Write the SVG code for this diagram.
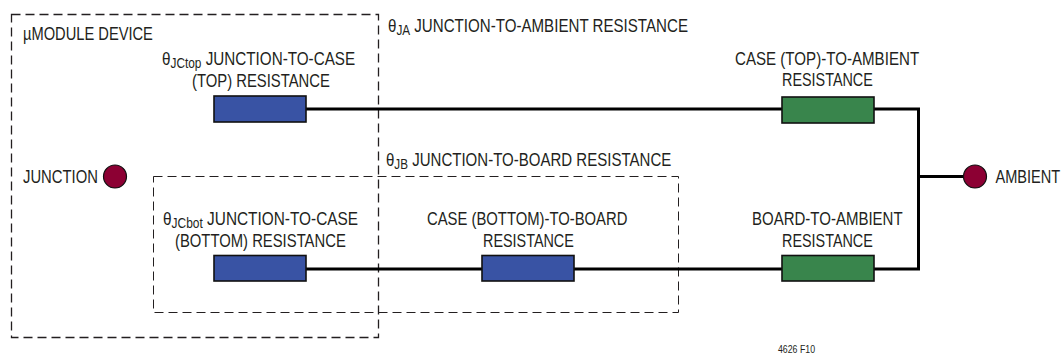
<svg xmlns="http://www.w3.org/2000/svg" width="1062" height="354" viewBox="0 0 1062 354">
<style>
text{font-family:"Liberation Sans",Arial,sans-serif;font-size:18px;fill:#231f20}
.s{font-size:14px}
.c{font-size:10px}
.dash{fill:none;stroke:#231f20;stroke-width:1.3;stroke-dasharray:9 5}
.dash2{fill:none;stroke:#231f20;stroke-width:1;stroke-dasharray:9 5}
.wire{fill:none;stroke:#000;stroke-width:3}
.blue{fill:#3953a4;stroke:#111;stroke-width:1.6}
.green{fill:#39854c;stroke:#111;stroke-width:1.6}
.dot{fill:#8c0033;stroke:#111;stroke-width:1.2}
</style>
<rect width="1062" height="354" fill="#fff"/>
<g id="boundaries">
<rect class="dash" x="11.500" y="14.500" width="367" height="323"/>
<rect class="dash2" x="153.500" y="176.500" width="525" height="136"/>
</g>
<g id="connectors">
<path class="wire" d="M306 109H782M874 109H918.500V269H874M782 269H574M482 269H306M918.500 176.500H964"/>
</g>
<g id="device-label"><text transform="translate(23 40) scale(.816 1)">µMODULE DEVICE</text></g>
<g id="ja-label"><text transform="translate(388 32) scale(.84 1)">θ<tspan class="s" dy="3">JA</tspan><tspan dy="-3"> JUNCTION-TO-AMBIENT RESISTANCE</tspan></text></g>
<g id="jb-label"><text transform="translate(386 166) scale(.835 1)">θ<tspan class="s" dy="3">JB</tspan><tspan dy="-3"> JUNCTION-TO-BOARD RESISTANCE</tspan></text></g>
<g id="jctop">
<text transform="translate(162 65) scale(.847 1)">θ<tspan class="s" dy="3">JCtop</tspan><tspan dy="-3"> JUNCTION-TO-CASE</tspan></text>
<text transform="translate(192 86.500) scale(.824 1)">(TOP) RESISTANCE</text>
<rect class="blue" x="214" y="96" width="92" height="26"/>
</g>
<g id="case-top-ambient">
<text transform="translate(735 65) scale(.84 1)">CASE (TOP)-TO-AMBIENT</text>
<text transform="translate(782 86) scale(.8 1)">RESISTANCE</text>
<rect class="green" x="782" y="97" width="92" height="26"/>
</g>
<g id="junction">
<text transform="translate(23 183) scale(.824 1)">JUNCTION</text>
<circle class="dot" cx="115" cy="176.500" r="11.500"/>
</g>
<g id="ambient">
<circle class="dot" cx="975" cy="176.500" r="11.500"/>
<text transform="translate(995.500 183) scale(.81 1)">AMBIENT</text>
</g>
<g id="jcbot">
<text transform="translate(163 225) scale(.855 1)">θ<tspan class="s" dy="3">JCbot</tspan><tspan dy="-3"> JUNCTION-TO-CASE</tspan></text>
<text transform="translate(175 246.500) scale(.824 1)">(BOTTOM) RESISTANCE</text>
<rect class="blue" x="214" y="255.500" width="92" height="25.500"/>
</g>
<g id="case-bottom-board">
<text transform="translate(427 225) scale(.824 1)">CASE (BOTTOM)-TO-BOARD</text>
<text transform="translate(483 246.500) scale(.8 1)">RESISTANCE</text>
<rect class="blue" x="482" y="255.500" width="92" height="25.500"/>
</g>
<g id="board-ambient">
<text transform="translate(752 225) scale(.834 1)">BOARD-TO-AMBIENT</text>
<text transform="translate(782 246.500) scale(.8 1)">RESISTANCE</text>
<rect class="green" x="782" y="255.500" width="92" height="25.500"/>
</g>
<g id="figure-code"><text class="c" transform="translate(778 353) scale(.877 1)">4626 F10</text></g>
</svg>
